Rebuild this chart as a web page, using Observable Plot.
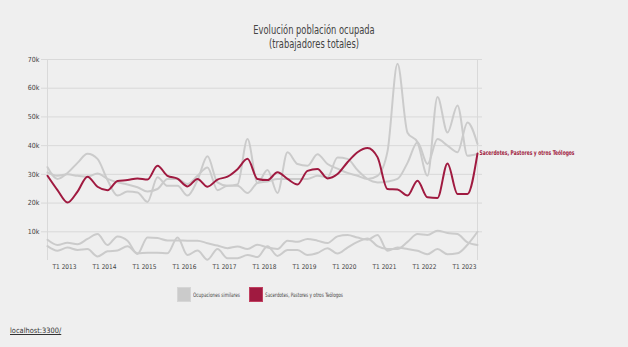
<!DOCTYPE html>
<html><head><meta charset="utf-8">
<script src="https://cdn.jsdelivr.net/npm/d3@7"></script>
<script src="https://cdn.jsdelivr.net/npm/@observablehq/plot@0.6"></script>
<style>
html,body{margin:0;padding:0;background:#efefef;}
body{width:628px;height:347px;position:relative;overflow:hidden;font-family:"DejaVu Sans",sans-serif;font-stretch:condensed;}
#title{position:absolute;top:23px;left:0;width:628px;text-align:center;font-size:12px;line-height:14px;color:#444;transform:scaleX(0.77);transform-origin:314px 0;}
#chart{position:absolute;left:0;top:0;}
#chart svg text{font-stretch:condensed;}
.lg{position:absolute;}
.sw{top:287px;width:14px;height:15px;box-sizing:border-box;}
.lab{top:291px;font-size:6px;line-height:7px;color:#444;white-space:nowrap;transform-origin:0 0;}
#link{position:absolute;left:10px;top:326px;font-size:7.4px;color:#333;text-decoration:underline;}
</style></head>
<body>
<div id="title">Evolución población ocupada<br>(trabajadores totales)</div>
<div id="chart"></div>
<div id="legend"></div>
<div id="link">localhost:3300/</div>
<script>
const years = [2012,2013,2014,2015,2016,2017,2018,2019,2020,2021,2022,2023];
const tickLabels = ["T1 2013","T1 2014","T1 2015","T1 2016","T1 2017","T1 2018","T1 2019","T1 2020","T1 2021","T1 2022","T1 2023"];
const quarters = [];
for (const y of years) for (const q of [1,2,3,4]) {
  if ((y === 2012 && q < 3) || (y === 2023 && q > 2)) continue;
  quarters.push(`T${q} ${y}`);
}
const mainName = "Sacerdotes, Pastores y otros Teólogos";
const similarName = "Ocupaciones similares";
const mainSeries = [29.5,24.5,20.2,24,29.2,25.7,24.5,27.7,28,28.6,28.2,33,29.5,28.5,25.8,28.4,25.7,28.2,29.2,31.8,35.4,28.4,28,30.7,28.4,26.5,31.2,31.9,28.6,30.1,34.2,37.7,39.2,36,24.9,24.7,22.6,27.8,22,21.8,33.8,23.2,23.2,37.3];
const similarA = [32.5,28.4,30.5,34,37.2,35.4,28,22.6,24,23.7,20.4,29,26,26,22.6,28,36.3,27.2,26,26.5,42.3,27,31.5,23.5,37.7,33.6,33,37,33.6,32,30.5,29.5,28.4,29.5,38,68.5,44.5,41.2,29.5,56.9,44.6,54,36.5,37.1];
const similarB = [30.7,29.5,30,29.5,29.2,30.3,28.4,27.2,26.5,25.5,24,24.9,28.4,28.4,26.6,29.5,32.4,24.5,26,26,23.5,27,27.5,28.4,28.4,28.4,28.4,29.5,29,35.9,35.4,31.5,28.4,27.2,27.5,28.4,34,41.2,33.6,42.3,40,37.7,48.1,40.6];
const similarC = [7.2,5.4,6.2,5.7,7.5,9.2,5.4,8.4,6.9,2.3,8,7.8,7,7,6.9,6.9,6,5.2,4.3,4.9,4,5.5,4.5,4,6.9,6.5,7.5,6.9,6.1,8.4,8.9,8,7.2,8.9,3.4,4.5,4,3.4,2.2,4,2.2,2.5,5.5,10];
const similarD = [5,3.4,4.5,3.7,4,1.4,3.2,3.5,5,2.5,2.7,2.7,2.5,8,1.9,3.5,0.3,4,0.8,0.8,1.9,1.2,5,1.6,3.7,3.7,1.9,2.6,4.3,2.4,4.5,6.5,7.7,5,4,4,6.5,9.2,8.9,10.4,9.6,9.2,6.3,5.4];
const yTicks = [10000,20000,30000,40000,50000,60000,70000];

const RED = "#a01a40", GRAY = "#cbcbcb";
const grayRows = [];
[similarA, similarB, similarC, similarD].forEach((s, i) => s.forEach((v, j) => grayRows.push({s: i, q: quarters[j], v: v * 1000})));
const mainRows = mainSeries.map((v, j) => ({q: quarters[j], v: v * 1000}));
const last = mainRows[mainRows.length - 1];

const chart = Plot.plot({
  width: 628, height: 280,
  marginLeft: 41, marginRight: 146, marginTop: 59, marginBottom: 20,
  style: {background: "transparent", fontFamily: '"DejaVu Sans",sans-serif', color: "#444"},
  x: {type: "point", domain: quarters, padding: 0},
  y: {domain: [0, 70000]},
  marks: [
    Plot.gridY(yTicks, {stroke: "#d9d9d9", strokeOpacity: 1, strokeWidth: 1}),
    Plot.ruleX([quarters[0], quarters[quarters.length - 1]], {y1: 0, y2: 70000, stroke: "#d9d9d9"}),
    Plot.axisY(yTicks, {tickSize: 0, tickPadding: 2, fontSize: 7, tickFormat: d => d / 1000 + "k", label: null}),
    Plot.axisX(tickLabels, {tickSize: 0, tickPadding: 4, fontSize: 6.5, dx: -3, label: null}),
    Plot.line(grayRows, {x: "q", y: "v", z: "s", stroke: GRAY, strokeWidth: 2, curve: "monotone-x"}),
    Plot.line(mainRows, {x: "q", y: "v", stroke: RED, strokeWidth: 2, curve: "monotone-x"}),
    Plot.text([last], {x: "q", y: "v", text: () => mainName, textAnchor: "start", dx: 2, fill: RED, fontSize: 6.5, fontWeight: "bold", className: "endlabel"})
  ]
});
document.getElementById("chart").appendChild(chart);
chart.querySelectorAll(".endlabel text").forEach(t => {
  t.setAttribute("textLength", 95);
  t.setAttribute("lengthAdjust", "spacingAndGlyphs");
});

const legend = document.getElementById("legend");
const legendItems = [
  {name: similarName, col: GRAY, border: "#d6d6d6", sx: 177, lx: 193, lw: 47},
  {name: mainName, col: RED, border: "#c04060", sx: 248.5, lx: 265, lw: 78}
];
legendItems.forEach(it => {
  const sw = document.createElement("div");
  sw.className = "lg sw"; sw.style.left = it.sx + "px";
  sw.style.background = it.col; sw.style.border = "1px solid " + it.border;
  const lb = document.createElement("div");
  lb.className = "lg lab"; lb.style.left = it.lx + "px"; lb.textContent = it.name;
  legend.appendChild(sw); legend.appendChild(lb);
  const w = lb.getBoundingClientRect().width;
  lb.style.transform = `scaleX(${it.lw / w})`;
});
</script>
</body></html>
